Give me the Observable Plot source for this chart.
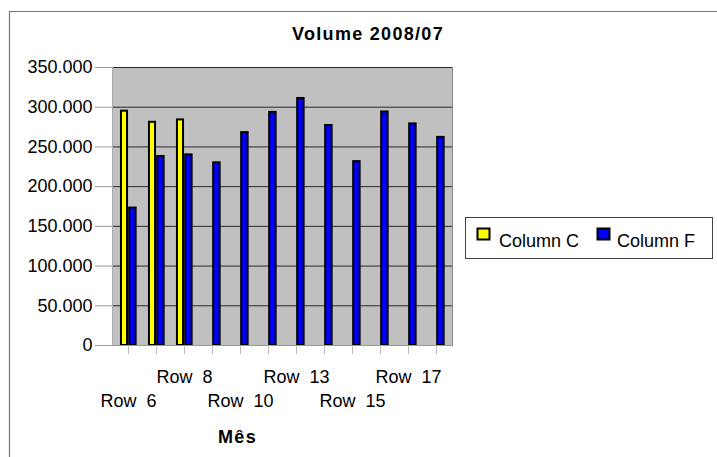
<!DOCTYPE html>
<html>
<head>
<meta charset="utf-8">
<script src="https://cdn.jsdelivr.net/npm/d3@7"></script>
<script src="https://cdn.jsdelivr.net/npm/@observablehq/plot@0.6"></script>
<style>
  html, body { margin: 0; padding: 0; background: #fff; }
  svg { display: block; }
</style>
</head>
<body>
<div id="chart"></div>
<script>
const categories = ["Row 6", "Row 7", "Row 8", "Row 9", "Row 10", "Row 11", "Row 13", "Row 14", "Row 15", "Row 16", "Row 17", "Row 18"];
const columnC = [295000, 281000, 284000, null, null, null, null, null, null, null, null, null];
const columnF = [173000, 238000, 240000, 230000, 268000, 293500, 311000, 277000, 231500, 294000, 279000, 262000];
const seriesNames = ["Column C", "Column F"];
const seriesColors = ["#ffff00", "#0000ff"];
const yTicks = [0, 50000, 100000, 150000, 200000, 250000, 300000, 350000];
const upperLabels = ["Row 8", "Row 13", "Row 17"];
const lowerLabels = ["Row 6", "Row 10", "Row 15"];
const title = "Volume 2008/07";
const xTitle = "Mês";

const dataC = categories.map((c, i) => ({cat: c, value: columnC[i]})).filter(d => d.value != null);
const dataF = categories.map((c, i) => ({cat: c, value: columnF[i]})).filter(d => d.value != null);

const fmt = d3.formatLocale({decimal: ",", thousands: ".", grouping: [3], currency: ["", ""]}).format(",");

const W = 717, H = 457;
const mL = 112, mR = 265, mT = 67, mB = 112;
const band = (W - mL - mR) / categories.length;
const half = band / 2;
const font = "'Liberation Sans', Arial, sans-serif";
const cx = mL + (W - mL - mR) / 2;

const plot = Plot.plot({
  width: W,
  height: H,
  marginLeft: mL,
  marginRight: mR,
  marginTop: mT,
  marginBottom: mB,
  style: {fontFamily: font, fontSize: "18px", background: "#fff", color: "#000"},
  x: {type: "band", domain: categories, padding: 0, axis: null, label: null},
  y: {domain: [0, 350000], axis: null, label: null},
  marks: [
    Plot.frame({fill: "#c0c0c0", stroke: null}),
    Plot.gridY(yTicks, {stroke: "#2a2a2a", strokeOpacity: 1, strokeWidth: 1}),
    Plot.frame({anchor: "right", stroke: "#888"}),
    Plot.frame({anchor: "left", stroke: "#aaa"}),
    Plot.barY(dataC, {x: "cat", y: "value", fill: seriesColors[0], stroke: "#000", strokeWidth: 2,
      insetLeft: half - 7.2, insetRight: half + 0.8}),
    Plot.barY(dataF, {x: "cat", y: "value", fill: seriesColors[1], stroke: "#000", strokeWidth: 2,
      insetLeft: half + 1, insetRight: half - 7.8}),
    Plot.axisY({ticks: yTicks, tickSize: 17, tickPadding: 3, stroke: "#999", tickFormat: fmt, fontSize: 18, label: null}),
    Plot.ruleY([0], {stroke: "#999"}),
    Plot.axisX({ticks: categories, tickSize: 9, stroke: "#bbb", tickFormat: () => "", label: null}),
    Plot.axisX({ticks: upperLabels, tickSize: 0, tickPadding: 25, fontSize: 18, label: null}),
    Plot.axisX({ticks: lowerLabels, tickSize: 0, tickPadding: 49, fontSize: 18, label: null}),
    Plot.text([xTitle], {frameAnchor: "bottom", dx: 237 - cx, dy: 92,
      fontWeight: "bold", fontSize: 18, lineAnchor: "middle"}),
    Plot.text([title], {frameAnchor: "top", dx: 367.5 - cx, dy: 33.5 - mT,
      fontWeight: "bold", fontSize: 18, lineAnchor: "middle"})
  ]
});

const svg = d3.select(plot);
svg.selectAll("text").each(function() {
  const t = d3.select(this);
  const s = t.text();
  if (s === title || s === xTitle) t.attr("letter-spacing", 1.3);
  if (/^Row /.test(s)) t.attr("word-spacing", 5);
});

// outer chart border (extends beyond right/bottom edges)
svg.insert("path", ":first-child")
  .attr("d", `M9.5,${H}V11.5H${W}`)
  .attr("fill", "none").attr("stroke", "#777").attr("stroke-width", 1.2);

// legend
const lg = svg.append("g").attr("font-family", font).attr("font-size", 18).attr("text-anchor", "start");
lg.append("rect").attr("x", 465.5).attr("y", 217.5).attr("width", 247).attr("height", 41)
  .attr("fill", "#fff").attr("stroke", "#444");
const items = [{x: 477, tx: 499}, {x: 597, tx: 617}];
seriesNames.forEach((name, i) => {
  lg.append("rect").attr("x", items[i].x + 0.5).attr("y", 228.5).attr("width", 12).attr("height", 11)
    .attr("fill", seriesColors[i]).attr("stroke", "#000").attr("stroke-width", 2);
  lg.append("text").attr("x", items[i].tx).attr("y", 241).attr("dy", "0.35em")
    .attr("text-anchor", "start").text(name);
});

document.getElementById("chart").appendChild(plot);
</script>
</body>
</html>
